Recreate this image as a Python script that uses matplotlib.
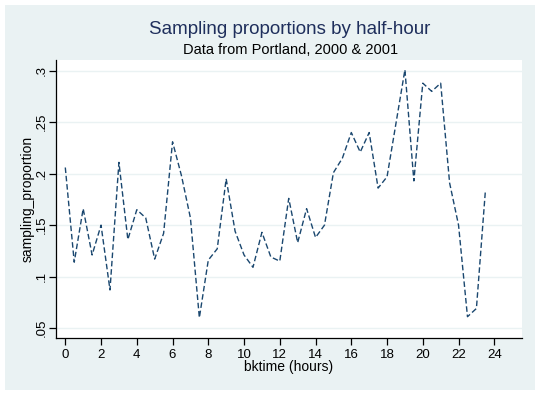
import matplotlib
matplotlib.use("Agg")
import matplotlib.pyplot as plt
from matplotlib.patches import Rectangle

plt.rcParams['font.family'] = ['Liberation Sans', 'DejaVu Sans']

# Data: sampling proportion by half-hour
bktime = [0, 0.5, 1, 1.5, 2, 2.5, 3, 3.5, 4, 4.5, 5, 5.5, 6, 6.5, 7, 7.5,
          8, 8.5, 9, 9.5, 10, 10.5, 11, 11.5, 12, 12.5, 13, 13.5, 14, 14.5,
          15, 15.5, 16, 16.5, 17, 17.5, 18, 18.5, 19, 19.5, 20, 20.5, 21,
          21.5, 22, 22.5, 23, 23.5]
sampling_proportion = [0.206, 0.114, 0.166, 0.121, 0.150, 0.087, 0.211, 0.136,
                       0.165, 0.157, 0.117, 0.142, 0.231, 0.198, 0.157, 0.060,
                       0.116, 0.127, 0.195, 0.144, 0.121, 0.109, 0.143, 0.119,
                       0.115, 0.176, 0.133, 0.166, 0.138, 0.150, 0.201, 0.215,
                       0.240, 0.221, 0.240, 0.186, 0.197, 0.249, 0.301, 0.193,
                       0.288, 0.280, 0.288, 0.191, 0.150, 0.061, 0.069, 0.183]

xticks = [0, 2, 4, 6, 8, 10, 12, 14, 16, 18, 20, 22, 24]
yticks = [0.05, 0.1, 0.15, 0.2, 0.25, 0.3]
ytick_labels = ['.05', '.1', '.15', '.2', '.25', '.3']

title = "Sampling proportions by half-hour"
subtitle = "Data from Portland, 2000 & 2001"
xlabel = "bktime (hours)"
ylabel = "sampling_proportion"

BG = '#eaf2f3'
LINE = '#1a476f'
W, H = 540, 395

fig = plt.figure(figsize=(W / 100, H / 100), dpi=100)
fig.patch.set_facecolor('white')
fig.patches.append(Rectangle((5 / W, 5 / H), 530 / W, 385 / H,
                             transform=fig.transFigure, facecolor=BG,
                             edgecolor='none', zorder=-10))

ax = fig.add_axes([56 / W, 1 - 338 / H, (522 - 56) / W, (338 - 60) / H])
ax.set_facecolor('white')

ax.plot(bktime, sampling_proportion, color=LINE, lw=1.0,
        linestyle=(0, (4.0, 2.0)), zorder=3)

ax.set_xlim(-0.52, 25.55)
ax.set_ylim(0.0403, 0.3105)
ax.set_xticks(xticks)
ax.set_xticklabels([str(t) for t in xticks], fontsize=9.5)
ax.set_yticks(yticks)
ax.set_yticklabels(ytick_labels, fontsize=9.5, rotation=90, va='center')

for y in yticks:
    ax.axhline(y, color=BG, lw=1.0, zorder=1)

for s in ['top', 'right']:
    ax.spines[s].set_visible(False)
for s in ['left', 'bottom']:
    ax.spines[s].set_color('black')
    ax.spines[s].set_linewidth(0.9)

ax.tick_params(axis='both', direction='out', length=5, width=0.9,
               color='black', labelcolor='black')
ax.tick_params(axis='x', pad=3)
ax.tick_params(axis='y', pad=1)

ax.set_xlabel(xlabel, fontsize=10, labelpad=-1)
ax.set_ylabel(ylabel, fontsize=10, labelpad=1)

fig.text(290 / W, 1 - 30 / H, title, ha='center', va='center',
         fontsize=13.5, color='#1f2f5c')
fig.text(291 / W, 1 - 50 / H, subtitle, ha='center', va='center',
         fontsize=10.5, color='black')

fig.savefig('out.png', dpi=100, facecolor=fig.get_facecolor())
